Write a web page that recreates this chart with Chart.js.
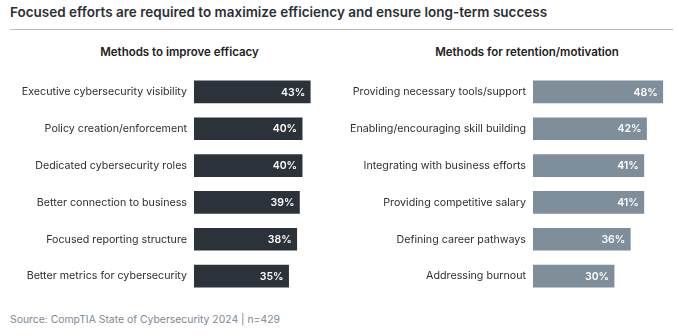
<!DOCTYPE html>
<html>
<head>
<meta charset="utf-8">
<script src="https://cdn.jsdelivr.net/npm/chart.js@4/dist/chart.umd.min.js"></script>
<style>
  body { margin: 0; width: 679px; height: 336px; background: #fff; position: relative; overflow: hidden; font-family: Inter, sans-serif; }
  .title { position: absolute; left: 10px; top: 4px; font-size: 13.5px; font-weight: 600; color: #2b2f33; white-space: nowrap; }
  .rule { position: absolute; left: 10px; top: 29px; width: 663px; height: 0; border-top: 1.5px solid #b9b9b9; }
  .sub { position: absolute; top: 45px; font-size: 11.5px; font-weight: 600; color: #222; text-align: center; white-space: nowrap; }
  .source { position: absolute; left: 10px; top: 313px; font-size: 10.4px; color: #7d8893; white-space: nowrap; }
  .box { position: absolute; top: 60px; height: 248px; }
</style>
</head>
<body>
<div class="title">Focused efforts are required to maximize efficiency and ensure long-term success</div>
<div class="rule"></div>
<div class="sub" style="left:0; width:359px;">Methods to improve efficacy</div>
<div class="sub" style="left:340px; width:374px;">Methods for retention/motivation</div>
<div class="box" style="left:0; width:340px;"><canvas id="efficacyChart"></canvas></div>
<div class="box" style="left:340px; width:339px;"><canvas id="retentionChart"></canvas></div>
<div class="source">Source: CompTIA State of Cybersecurity 2024 | n=429</div>
<script>
const efficacyLabels = ['Executive cybersecurity visibility', 'Policy creation/enforcement', 'Dedicated cybersecurity roles', 'Better connection to business', 'Focused reporting structure', 'Better metrics for cybersecurity'];
const efficacyValues = [43, 40, 40, 39, 38, 35];
const retentionLabels = ['Providing necessary tools/support', 'Enabling/encouraging skill building', 'Integrating with business efforts', 'Providing competitive salary', 'Defining career pathways', 'Addressing burnout'];
const retentionValues = [48, 42, 41, 41, 36, 30];

// draws the "43%" text inside the end of each bar
const valueLabels = {
    id: 'valueLabels',
    afterDatasetsDraw(chart) {
        const ctx = chart.ctx;
        const meta = chart.getDatasetMeta(0);
        const values = chart.data.datasets[0].data;
        ctx.save();
        ctx.font = '600 10.5px Inter';
        ctx.fillStyle = '#ffffff';
        ctx.textAlign = 'right';
        ctx.textBaseline = 'middle';
        meta.data.forEach((bar, i) => {
            ctx.fillText(values[i] + '%', bar.x - 5, bar.y + 0.5);
        });
        ctx.restore();
    }
};

function makeChart(id, labels, values, color, axisWidth) {
    return new Chart(document.getElementById(id), {
        type: 'bar',
        data: {
            labels: labels,
            datasets: [{
                data: values,
                backgroundColor: color,
                borderWidth: 0,
                barThickness: 22
            }]
        },
        options: {
            indexAxis: 'y',
            responsive: true,
            maintainAspectRatio: false,
            animation: false,
            layout: { padding: 0 },
            plugins: {
                legend: { display: false },
                tooltip: { enabled: false }
            },
            scales: {
                x: { display: false, min: 0, max: 54 },
                y: {
                    grid: { display: false, drawTicks: false, tickLength: 0 },
                    border: { display: false },
                    ticks: {
                        color: '#2b2f33',
                        padding: 7,
                        font: { family: 'Inter', size: 10.7 }
                    },
                    afterFit(scale) { scale.width = axisWidth; }
                }
            }
        },
        plugins: [valueLabels]
    });
}

makeChart('efficacyChart', efficacyLabels, efficacyValues, '#2c3239', 194);
makeChart('retentionChart', retentionLabels, retentionValues, '#7f8e9b', 193);
</script>
</body>
</html>
